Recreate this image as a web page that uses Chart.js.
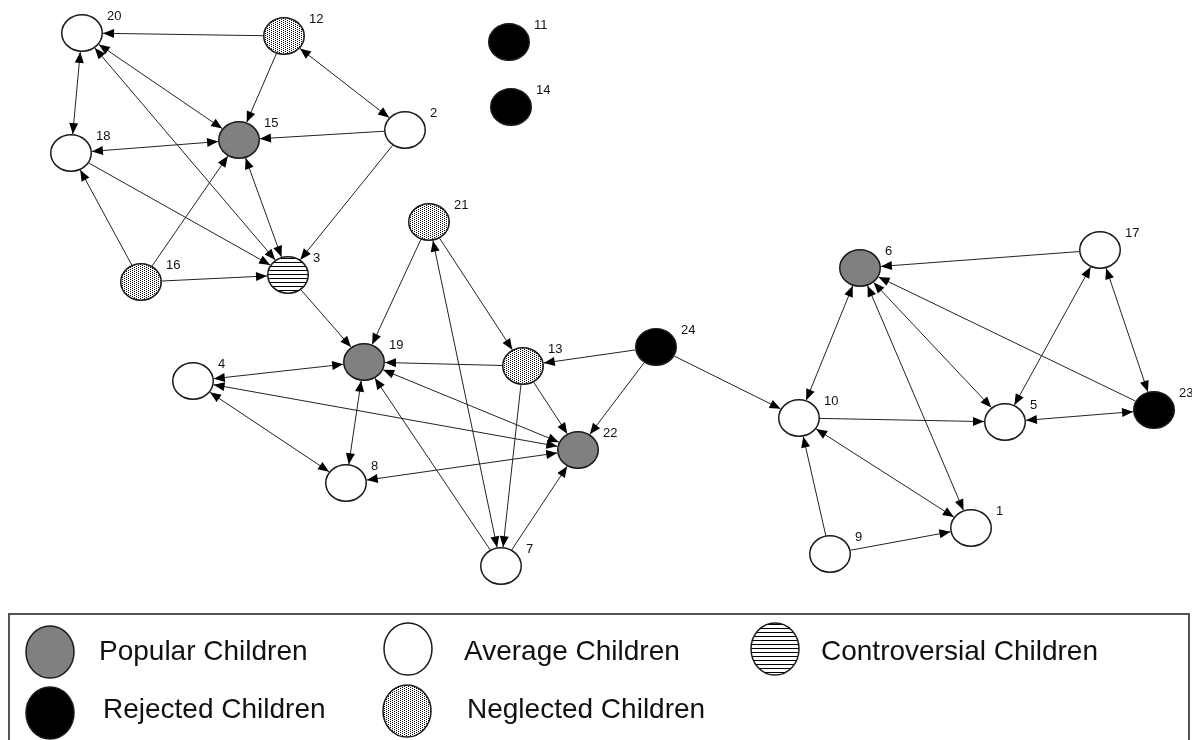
<!DOCTYPE html>
<html><head><meta charset="utf-8">
<script src="https://cdn.jsdelivr.net/npm/chart.js@4.4.1/dist/chart.umd.min.js"></script>
<style>html,body{margin:0;padding:0;background:#fff;}#wrap{width:1192px;height:740px;}</style>
</head><body><div id="wrap"><canvas id="c" width="1192" height="740"></canvas></div>
<script>
// ---- data ----
const groupNames = ['Popular Children','Average Children','Controversial Children','Rejected Children','Neglected Children'];
// group index: 0 popular, 1 average, 2 controversial, 3 rejected, 4 neglected
const nodeIds    = [1,   2,   3,   4,   5,    6,   7,   8,   9,   10,  11,  12,  13,  14,  15,  16,  17,   18,  19,  20,  21,  22,  23,   24];
const nodeX      = [971, 405, 288, 193, 1005, 860, 501, 346, 830, 799, 509, 284, 523, 511, 239, 141, 1100, 71,  364, 82,  429, 578, 1154, 656];
const nodeY      = [528, 130, 275, 381, 422,  268, 566, 483, 554, 418, 42,  36,  366, 107, 140, 282, 250,  153, 362, 33,  222, 450, 410,  347];
const nodeGroup  = [1,   1,   2,   1,   1,    0,   1,   1,   1,   1,   3,   4,   4,   3,   0,   4,   1,    1,   0,   1,   4,   0,   3,    3];
// edges: [from, to, mutual(1) or one-way(0)]
const edges = [
 [12,20,0],[12,15,0],[12,2,1],[2,15,0],[2,3,0],[20,18,1],[20,15,1],[20,3,1],
 [18,15,1],[18,3,0],[16,18,0],[16,15,0],[16,3,0],[15,3,1],[3,19,0],
 [21,19,0],[21,13,0],[21,7,1],[13,7,0],[13,19,0],[13,22,0],[24,13,0],[24,22,0],[24,10,0],
 [4,19,1],[4,22,1],[4,8,1],[19,8,1],[22,19,1],[7,19,0],[7,22,0],[22,8,1],
 [6,10,1],[6,1,1],[6,5,1],[23,6,0],[17,6,0],[17,5,1],[17,23,1],[23,5,1],
 [10,5,0],[10,1,1],[9,10,0],[9,1,0]
];

// ---- drawing helpers ----
function makePattern(ctx, g){
  const t = document.createElement('canvas');
  const tc = t.getContext('2d');
  if (g === 2){ t.width=1; t.height=4; tc.fillStyle='#fff'; tc.fillRect(0,0,1,4); tc.fillStyle='#000'; tc.fillRect(0,0,1,1); }
  else { t.width=4; t.height=2; tc.fillStyle='#fff'; tc.fillRect(0,0,4,2); tc.fillStyle='#000'; tc.fillRect(0,0,1,1); tc.fillRect(2,1,1,1); }
  return ctx.createPattern(t,'repeat');
}
function drawShape(ctx,cx,cy,rx,ry,g){
  ctx.save();
  ctx.beginPath(); ctx.ellipse(cx,cy,rx,ry,0,0,Math.PI*2);
  let fill;
  if (g===0) fill='#808080'; else if (g===1) fill='#ffffff'; else if (g===3) fill='#000000'; else fill=makePattern(ctx,g);
  ctx.fillStyle=fill; ctx.fill();
  ctx.lineWidth=1.5; ctx.strokeStyle='#1a1a1a'; ctx.stroke();
  ctx.restore();
}
const NRX=21, NRY=19;
const nodeImgs = groupNames.map((n,g)=>{
  const cv=document.createElement('canvas'); cv.width=46; cv.height=42;
  drawShape(cv.getContext('2d'),23,21,NRX-0.75,NRY-0.75,g);
  return cv;
});
function arrowHead(ctx,tx,ty,ux,uy){
  const L=11,W=4.5; const bx=tx-ux*L, by=ty-uy*L;
  ctx.beginPath(); ctx.moveTo(tx,ty); ctx.lineTo(bx-uy*W,by+ux*W); ctx.lineTo(bx+uy*W,by-ux*W); ctx.closePath(); ctx.fill();
}

const netPlugin = {
  id:'net',
  beforeDatasetsDraw(chart){
    const ctx=chart.ctx, xs=chart.scales.x, ys=chart.scales.y;
    ctx.save(); ctx.strokeStyle='#222'; ctx.fillStyle='#000'; ctx.lineWidth=1;
    edges.forEach(([a,b,m])=>{
      const i=nodeIds.indexOf(a), j=nodeIds.indexOf(b);
      const ax=xs.getPixelForValue(nodeX[i]), ay=ys.getPixelForValue(nodeY[i]);
      const bx=xs.getPixelForValue(nodeX[j]), by=ys.getPixelForValue(nodeY[j]);
      const dx=bx-ax, dy=by-ay, len=Math.hypot(dx,dy), ux=dx/len, uy=dy/len;
      const t=1/Math.sqrt((ux/NRX)**2+(uy/NRY)**2);
      const sx=ax+ux*t, sy=ay+uy*t, ex=bx-ux*t, ey=by-uy*t;
      ctx.beginPath(); ctx.moveTo(sx,sy); ctx.lineTo(ex,ey); ctx.stroke();
      arrowHead(ctx,ex,ey,ux,uy);
      if (m) arrowHead(ctx,sx,sy,-ux,-uy);
    });
    ctx.restore();
  },
  afterDatasetsDraw(chart){
    const ctx=chart.ctx, xs=chart.scales.x, ys=chart.scales.y;
    ctx.save();
    ctx.font='13px "Liberation Sans", Arial, sans-serif'; ctx.fillStyle='#111';
    ctx.textAlign='left'; ctx.textBaseline='middle';
    nodeIds.forEach((id,i)=>{
      ctx.fillText(String(id), xs.getPixelForValue(nodeX[i])+25, ys.getPixelForValue(nodeY[i])-17);
    });
    // legend
    ctx.lineWidth=2; ctx.strokeStyle='#555';
    ctx.strokeRect(9,614,1180,140);
    const items=[[0,50,652,99,660],[1,408,649,464,660],[2,775,649,821,660],[3,50,713,103,718],[4,407,711,467,718]];
    ctx.font='28px "Liberation Sans", Arial, sans-serif'; ctx.fillStyle='#111'; ctx.textBaseline='alphabetic';
    items.forEach(([g,cx,cy,tx,ty])=>{
      drawShape(ctx,cx,cy,24,26,g);
      ctx.fillStyle='#111';
      ctx.fillText(groupNames[g],tx,ty);
    });
    ctx.restore();
  }
};

const datasets = groupNames.map((name,g)=>({
  label:name,
  data: nodeIds.map((id,i)=>({x:nodeX[i],y:nodeY[i],id})).filter((p,i)=>nodeGroup[i]===g),
  pointStyle: nodeImgs[g], pointRadius:20, pointHoverRadius:20, showLine:false
}));

new Chart(document.getElementById('c'),{
  type:'scatter',
  data:{datasets},
  options:{
    responsive:false, animation:false, events:[],
    layout:{padding:0, autoPadding:false},
    plugins:{legend:{display:false},tooltip:{enabled:false}},
    scales:{
      x:{type:'linear',min:0,max:1192,display:false},
      y:{type:'linear',min:0,max:740,reverse:true,display:false}
    }
  },
  plugins:[netPlugin]
});
</script></body></html>
